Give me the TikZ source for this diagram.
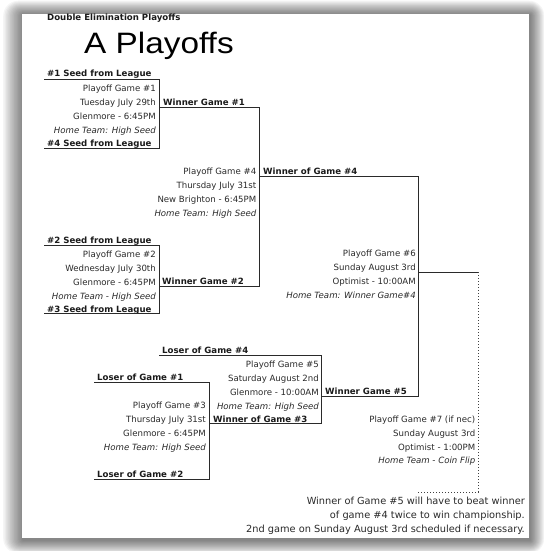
\documentclass[tikz,border=0pt]{standalone}
\usepackage{fontspec}
\setmainfont{DejaVu Sans}
\newfontfamily\titlefont{Liberation Sans}
\definecolor{ink}{HTML}{2A2A2A}
\definecolor{inkb}{HTML}{1A1A1A}
\definecolor{rule}{HTML}{2A2A2A}
\tikzset{
  txt/.style={font=\fontsize{8.6}{10}\selectfont, text=ink, inner sep=0pt},
  rt/.style={txt, anchor=base east},
  lt/.style={txt, anchor=base west},
  bl/.style={lt, font=\fontsize{8.6}{10}\selectfont\bfseries, text=inkb},
  it/.style={rt, font=\fontsize{8.6}{10}\selectfont\itshape},
  foot/.style={rt, font=\fontsize{9.8}{11}\selectfont},
  brk/.style={line width=1pt, draw=rule},
  dotline/.style={line width=1pt, draw=black!75, dotted},
}
\begin{document}
\begin{tikzpicture}[x=1pt,y=-1pt]
\useasboundingbox (0,0) rectangle (543,551);
\fill[white] (0,0) rectangle (543,551);
% page shadow
\foreach \i in {1,...,15}{
  \fill[black, opacity=0.04, rounded corners=\i pt] (22-\i*1.35+1.5, 14-\i*0.95+1) rectangle (529+\i*0.95+1, 538+\i*0.9+2);
}
\fill[white] (22,14) rectangle (529,538);

% header and title
\node[bl, font=\fontsize{8.6}{10}\selectfont\bfseries] (hdr) at (47,21) {Double Elimination Playoffs};
\node[anchor=base west, inner sep=0pt, text=black, font=\titlefont\fontsize{29.5}{30}\selectfont] (title) at (84,54) {\scalebox{1.13}[1]{A Playoffs}};

% coordinates of bracket corners
\coordinate (b1tl) at (44,79.5);  \coordinate (b1tr) at (159,79.5);
\coordinate (b1bl) at (44,148.5); \coordinate (b1br) at (159,148.5);
\coordinate (w1s) at (159,107.3); \coordinate (w1e) at (259,107.3);
\coordinate (b3tl) at (44,245);   \coordinate (b3tr) at (159,245);
\coordinate (b3bl) at (44,313);   \coordinate (b3br) at (159,313);
\coordinate (w2s) at (159,286);   \coordinate (w2e) at (259,286);
\coordinate (w4s) at (259,176.7); \coordinate (w4e) at (418,176.7);
\coordinate (w5s) at (321,396);   \coordinate (w5e) at (418,396);
\coordinate (l4s) at (159,355);   \coordinate (l4e) at (321,355);
\coordinate (w3s) at (209,423.5); \coordinate (w3e) at (321,423.5);
\coordinate (l1s) at (94,382.3);  \coordinate (l1e) at (209,382.3);
\coordinate (l2s) at (94,479);    \coordinate (l2e) at (209,479);
\coordinate (g6s) at (418,272.3); \coordinate (g6e) at (478,272.3);
\coordinate (g7c) at (478,492);   \coordinate (g7e) at (418,492);

% Game 1
\node[bl] (s1) at (47,77) {\#1 Seed from League};
\node[rt] (g1a) at (156,91) {Playoff Game \#1};
\node[rt] (g1b) at (156,105) {Tuesday July 29th};
\node[rt] (g1c) at (156,119) {Glenmore - 6:45PM};
\node[it] (g1d) at (156,133) {Home Team: High Seed};
\node[bl] (s4) at (47,146.5) {\#4 Seed from League};
\node[bl] (w1) at (163,105) {Winner Game \#1};

% Game 4
\node[rt] (g4a) at (256.5,174.5) {Playoff Game \#4};
\node[rt] (g4b) at (256.5,188.5) {Thursday July 31st};
\node[rt] (g4c) at (256.5,202.5) {New Brighton - 6:45PM};
\node[it] (g4d) at (256.5,216.5) {Home Team: High Seed};
\node[bl] (w4) at (263,174.5) {Winner of Game \#4};

% Game 2
\node[bl] (s2) at (47,243.5) {\#2 Seed from League};
\node[rt] (g2a) at (156,257) {Playoff Game \#2};
\node[rt] (g2b) at (156,271) {Wednesday July 30th};
\node[rt] (g2c) at (156,285) {Glenmore - 6:45PM};
\node[it] (g2d) at (156,299) {Home Team - High Seed};
\node[bl] (s3) at (47,312) {\#3 Seed from League};
\node[bl] (w2) at (162,284.5) {Winner Game \#2};

% Game 6
\node[rt] (g6a) at (416,256.5) {Playoff Game \#6};
\node[rt] (g6b) at (416,270.5) {Sunday August 3rd};
\node[rt] (g6c) at (416,284.5) {Optimist - 10:00AM};
\node[it] (g6d) at (416,298.5) {Home Team: Winner Game\#4};

% Game 5
\node[bl] (l4) at (162,353) {Loser of Game \#4};
\node[rt] (g5a) at (319,367) {Playoff Game \#5};
\node[rt] (g5b) at (319,381) {Saturday August 2nd};
\node[rt] (g5c) at (319,395) {Glenmore - 10:00AM};
\node[it] (g5d) at (319,409) {Home Team: High Seed};
\node[bl] (w3) at (213,422) {Winner of Game \#3};
\node[bl] (w5) at (325,394.5) {Winner Game \#5};

% Game 3
\node[bl] (l1) at (97,380.5) {Loser of Game \#1};
\node[rt] (g3a) at (206,408.5) {Playoff Game \#3};
\node[rt] (g3b) at (206,422.5) {Thursday July 31st};
\node[rt] (g3c) at (206,436.5) {Glenmore - 6:45PM};
\node[it] (g3d) at (206,450.5) {Home Team: High Seed};
\node[bl] (l2) at (97,477) {Loser of Game \#2};

% Game 7
\node[rt] (g7a) at (475.5,422.5) {Playoff Game \#7 (if nec)};
\node[rt] (g7b) at (475.5,436) {Sunday August 3rd};
\node[rt] (g7c7) at (475.5,450) {Optimist - 1:00PM};
\node[it] (g7d) at (475.5,463.5) {Home Team - Coin Flip};

% footer
\node[foot] (f1) at (525,504.5) {Winner of Game \#5 will have to beat winner};
\node[foot] (f2) at (525,518.5) {of game \#4 twice to win championship.};
\node[foot] (f3) at (525,532) {2nd game on Sunday August 3rd scheduled if necessary.};

% brackets
\draw[brk] (b1tl) -- (b1tr) -- (b1br) -- (b1bl);
\draw[brk] (b3tl) -- (b3tr) -- (b3br) -- (b3bl);
\draw[brk] (w1s) -- (w1e) -- (w2e) -- (w2s);
\draw[brk] (w4s) -- (w4e) -- (w5e) -- (w5s);
\draw[brk] (l4s) -- (l4e) -- (w3e) -- (w3s);
\draw[brk] (l1s) -- (l1e) -- (l2e) -- (l2s);
\draw[brk] (g6s) -- (g6e);
\draw[dotline] (g6e) -- (g7c) -- (g7e);
\end{tikzpicture}
\end{document}
